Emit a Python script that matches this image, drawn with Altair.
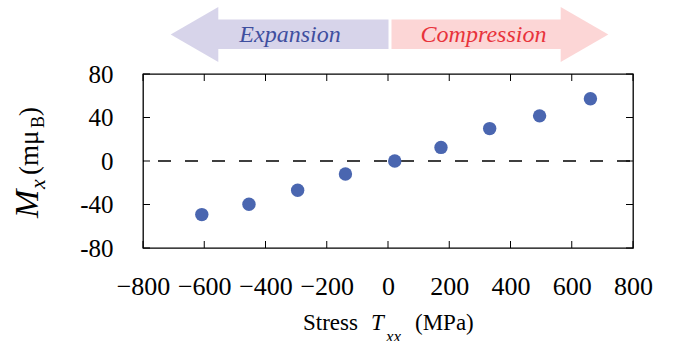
import altair as alt
import pandas as pd

# Stress applied along x (MPa) and resulting magnetization M_x (m mu_B)
stress = [-608, -454, -295, -139, 22, 173, 332, 495, 661]
mx = [-49.3, -39.8, -26.9, -12.0, 0.0, 12.5, 29.8, 41.5, 57.3]

x_ticks = [-800, -600, -400, -200, 0, 200, 400, 600, 800]
y_ticks = [-80, -40, 0, 40, 80]

arrow_labels = ["Expansion", "Compression"]

FONT = "Liberation Serif, Times New Roman, DejaVu Serif, serif"
W, H = 490, 174
TICK = 7

df = pd.DataFrame({"stress": stress, "mx": mx})
xt = pd.DataFrame({"stress": x_ticks})
yt = pd.DataFrame({"mx": y_ticks})

x_scale = alt.Scale(domain=[-800, 800], nice=False, zero=False)
y_scale = alt.Scale(domain=[-80, 80], nice=False, zero=False)

axis_common = dict(
    domain=False, grid=False, ticks=False, labelFont=FONT,
    labelColor="black", title=None, labelOverlap=False, labelBound=False,
    labelFlush=False,
)

x_axis = alt.Axis(
    orient="bottom", values=x_ticks, labelPadding=25, labelFontSize=26,
    labelExpr="datum.value < 0 ? '\u2212' + abs(datum.value) : '' + datum.value",
    **axis_common,
)
y_axis = alt.Axis(
    orient="left", values=y_ticks, labelPadding=30, labelFontSize=25,
    labelExpr="'' + datum.value", **axis_common,
)

X = alt.X("stress:Q", scale=x_scale, axis=x_axis)
Y = alt.Y("mx:Q", scale=y_scale, axis=y_axis)

points = alt.Chart(df).mark_circle(size=180, color="#4a66b0", opacity=1).encode(x=X, y=Y)

# Inward ticks on all four sides of the frame
tick_style = dict(color="black", thickness=1, size=TICK, opacity=1)
ticks_bottom = alt.Chart(xt).mark_tick(orient="vertical", **tick_style).encode(
    x=X, y=alt.value(H - TICK / 2)
)
ticks_top = alt.Chart(xt).mark_tick(orient="vertical", **tick_style).encode(
    x=X, y=alt.value(TICK / 2)
)
ticks_left = alt.Chart(yt).mark_tick(orient="horizontal", **tick_style).encode(
    y=Y, x=alt.value(TICK / 2)
)
ticks_right = alt.Chart(yt).mark_tick(orient="horizontal", **tick_style).encode(
    y=Y, x=alt.value(W - TICK / 2)
)

zero_line = alt.Chart(pd.DataFrame({"mx": [0]})).mark_rule(
    color="black", strokeWidth=1.3, strokeDash=[13, 14], strokeDashOffset=24
).encode(y=Y)

# Double arrow above the plot: expansion (left) and compression (right)
left_col, right_col = "#d7d4ea", "#fcd6d6"
one = pd.DataFrame({"a": [0]})
shaft_left = alt.Chart(one).mark_rect(color=left_col).encode(
    x=alt.value(75), x2=alt.value(245.5), y=alt.value(-54.5), y2=alt.value(-25)
)
shaft_right = alt.Chart(one).mark_rect(color=right_col).encode(
    x=alt.value(248.5), x2=alt.value(418), y=alt.value(-54.5), y2=alt.value(-25)
)
head_left = alt.Chart(one).mark_point(
    shape="triangle-left", filled=True, color=left_col, opacity=1, size=3025, strokeWidth=0
).encode(x=alt.value(51.5), y=alt.value(-39.5))
head_right = alt.Chart(one).mark_point(
    shape="triangle-right", filled=True, color=right_col, opacity=1, size=3025, strokeWidth=0
).encode(x=alt.value(441.5), y=alt.value(-39.5))

txt_left = alt.Chart(pd.DataFrame({"t": [arrow_labels[0]]})).mark_text(
    font=FONT, fontSize=24, fontStyle="italic", color="#3f4f9f", align="center",
    baseline="alphabetic",
).encode(text="t:N", x=alt.value(147), y=alt.value(-32))
txt_right = alt.Chart(pd.DataFrame({"t": [arrow_labels[1]]})).mark_text(
    font=FONT, fontSize=24, fontStyle="italic", color="#e8333b", align="center",
    baseline="alphabetic",
).encode(text="t:N", x=alt.value(340.5), y=alt.value(-32))


def piece(text, x, y, size, italic=False, angle=0):
    kw = dict(font=FONT, fontSize=size, color="black", align="left", baseline="alphabetic")
    if italic:
        kw["fontStyle"] = "italic"
    if angle:
        kw["angle"] = angle
    return alt.Chart(pd.DataFrame({"t": [text]})).mark_text(**kw).encode(
        text="t:N", x=alt.value(x), y=alt.value(y)
    )


# x-axis title: Stress T_xx (MPa)
x_title = [
    piece("Stress", 160, 256, 23),
    piece("T", 228, 256, 23, italic=True),
    piece("xx", 243, 268, 17, italic=True),
    piece("(MPa)", 272, 256, 23),
]

# y-axis title: M_x (m mu_B), rotated
y_title = [
    piece("M", -105, 144, 34, italic=True, angle=270),
    piece("x", -98, 115, 22, italic=True, angle=270),
    piece("(m\u03bc", -105, 101, 27, angle=270),
    piece("B", -99, 54, 18, angle=270),
    piece(")", -105, 42, 27, angle=270),
]

chart = alt.layer(
    shaft_left, shaft_right, head_left, head_right, txt_left, txt_right,
    zero_line, ticks_bottom, ticks_top, ticks_left, ticks_right, points,
    *x_title, *y_title,
).properties(
    width=W, height=H,
    autosize=alt.AutoSizeParams(type="none"),
    padding={"left": 143, "top": 74, "right": 46, "bottom": 93},
).configure_view(stroke="black", strokeWidth=1.3)

chart.save("out.html", embed_options={"renderer": "svg", "actions": False})
